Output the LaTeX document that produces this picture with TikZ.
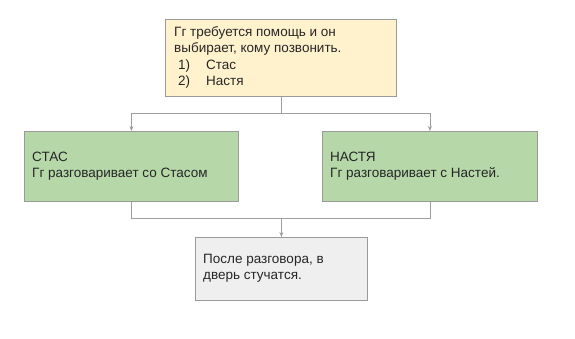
\documentclass[tikz,border=0pt]{standalone}
\usepackage{fontspec}
\setmainfont{Liberation Sans}
\usetikzlibrary{arrows.meta}
\definecolor{lineg}{HTML}{9E9E9E}
\definecolor{boxborder}{HTML}{9A9A9A}
\definecolor{yel}{HTML}{FFF2CC}
\definecolor{grn}{HTML}{B6D7A8}
\definecolor{gry}{HTML}{EFEFEF}
\begin{document}
\begin{tikzpicture}[x=1pt,y=-1pt,
  boxshape/.style={draw=boxborder,line width=0.8pt,anchor=north west},
  boxtext/.style={anchor=west,inner sep=0pt,align=left,font=\fontsize{13.5}{16.3}\selectfont,text=black!85},
  conn/.style={draw=lineg,line width=0.8pt},
  arr/.style={conn,-{Stealth[length=5pt,width=4pt]}}]
\useasboundingbox (0,0) rectangle (575,339);
% top box
\node[boxshape,fill=yel,minimum width=231pt,minimum height=77pt] (top) at (165,19) {};
\node[boxtext] (toptext) at (174,57.5)
 {Гг требуется помощь и он\\выбирает, кому позвонить.\\\hspace*{4pt}1)\hspace*{16pt}Стас\\\hspace*{4pt}2)\hspace*{16pt}Настя};
% left box
\node[boxshape,fill=grn,minimum width=214pt,minimum height=70pt] (left) at (24,131) {};
\node[boxtext] (lefttext) at (32,166)
 {СТАС\\Гг разговаривает со Стасом};
% right box
\node[boxshape,fill=grn,minimum width=215pt,minimum height=70pt] (right) at (322,131) {};
\node[boxtext] (righttext) at (330,166)
 {НАСТЯ\\Гг разговаривает с Настей.};
% bottom box
\node[boxshape,fill=gry,minimum width=172pt,minimum height=63pt] (bot) at (195,237) {};
\node[boxtext] (bottext) at (203,268.5)
 {После разговора, в\\дверь стучатся.};
% connectors
\coordinate (split) at (top.south |- 0,113);
\draw[conn] (top.south) -- (split);
\draw[arr] (split) -| (left.north);
\draw[arr] (split) -| (right.north);
\coordinate (join) at (bot.north |- 0,218);
\draw[conn] (left.south) |- (join);
\draw[conn] (right.south) |- (join);
\draw[arr] (join) -- (bot.north);
\end{tikzpicture}
\end{document}
